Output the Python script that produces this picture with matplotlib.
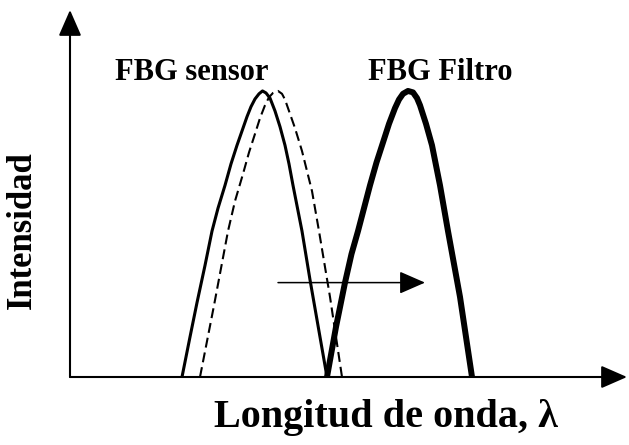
import matplotlib
matplotlib.use("Agg")
import matplotlib.pyplot as plt

# wavelength (arbitrary units) and normalised intensity
sensorX = [112, 120, 127, 135, 142, 148, 155, 161, 167, 172, 177, 181, 185, 189, 192.5,
           196, 200, 205, 210, 215, 219, 223, 227.5, 232, 236, 240, 248.5, 257]
sensorY = [0, 0.14, 0.26, 0.39, 0.51, 0.59, 0.67, 0.745, 0.81, 0.86, 0.91, 0.945, 0.972, 0.99, 1.0,
           0.993, 0.975, 0.93, 0.875, 0.81, 0.745, 0.67, 0.59, 0.51, 0.425, 0.34, 0.17, 0]

shiftedX = [130, 137, 144, 151, 158, 165, 173, 179, 185, 190, 195, 199, 203, 208,
            212, 215, 218, 225, 232, 237, 242, 249, 254.5, 260, 266, 272]
shiftedY = [0, 0.125, 0.25, 0.38, 0.51, 0.615, 0.71, 0.785, 0.85, 0.905, 0.95, 0.978, 0.993, 1.0,
            0.99, 0.97, 0.94, 0.87, 0.79, 0.72, 0.65, 0.51, 0.395, 0.28, 0.14, 0]

filterX = [257, 266, 275, 281.5, 288, 294, 300, 306.5, 313, 319, 325, 329, 333, 338,
           343, 347, 350, 356, 362, 366, 370, 374, 378, 384, 390, 396, 402]
filterY = [0, 0.175, 0.33, 0.43, 0.51, 0.59, 0.67, 0.75, 0.82, 0.885, 0.94, 0.97, 0.99, 1.0,
           0.995, 0.975, 0.95, 0.885, 0.81, 0.74, 0.67, 0.59, 0.51, 0.395, 0.28, 0.14, 0]

shiftArrow = [(208, 0.33), (355, 0.33)]
xMax = 557
yMax = 1.283

plt.rcParams['font.family'] = ['Liberation Serif', 'DejaVu Serif']

fig = plt.figure(figsize=(6.29, 4.45), dpi=100)
ax = fig.add_axes([70/629, 68/445, 557/629, 367/445])
ax.set_xlim(0, xMax)
ax.set_ylim(0, yMax)
ax.axis("off")

ax.plot(sensorX, sensorY, color="black", lw=2.2, solid_joinstyle="round")
ax.plot(shiftedX, shiftedY, color="black", lw=1.5, dashes=(4.8, 2.4))
ax.plot(filterX, filterY, color="black", lw=4.3, solid_joinstyle="round", solid_capstyle="butt")

# axes as arrows
head = "-|>,head_length=0.8,head_width=0.35"
ax.annotate("", xy=(0, yMax), xytext=(0, 0), annotation_clip=False,
            arrowprops=dict(arrowstyle=head, lw=1.5, color="black", mutation_scale=20, shrinkA=0, shrinkB=0))
ax.annotate("", xy=(xMax, 0), xytext=(0, 0), annotation_clip=False,
            arrowprops=dict(arrowstyle=head, lw=1.5, color="black", mutation_scale=20, shrinkA=0, shrinkB=0))
ax.annotate("", xy=shiftArrow[1], xytext=shiftArrow[0], annotation_clip=False,
            arrowprops=dict(arrowstyle=head, lw=1.1, color="black", mutation_scale=20, shrinkA=0, shrinkB=0))

ax.text(122, 1.04, "FBG sensor", fontsize=22, fontweight="bold", ha="center", va="baseline")
ax.text(370, 1.04, "FBG Filtro", fontsize=22, fontweight="bold", ha="center", va="baseline")

fig.text(22/629, 1 - 230/445, "Intensidad", fontsize=25, fontweight="bold",
         rotation=90, ha="center", va="center")
fig.text(386/629, 1 - 418/445, "Longitud de onda, λ", fontsize=29, fontweight="bold",
         ha="center", va="center")

plt.savefig("out.png", dpi=100)
